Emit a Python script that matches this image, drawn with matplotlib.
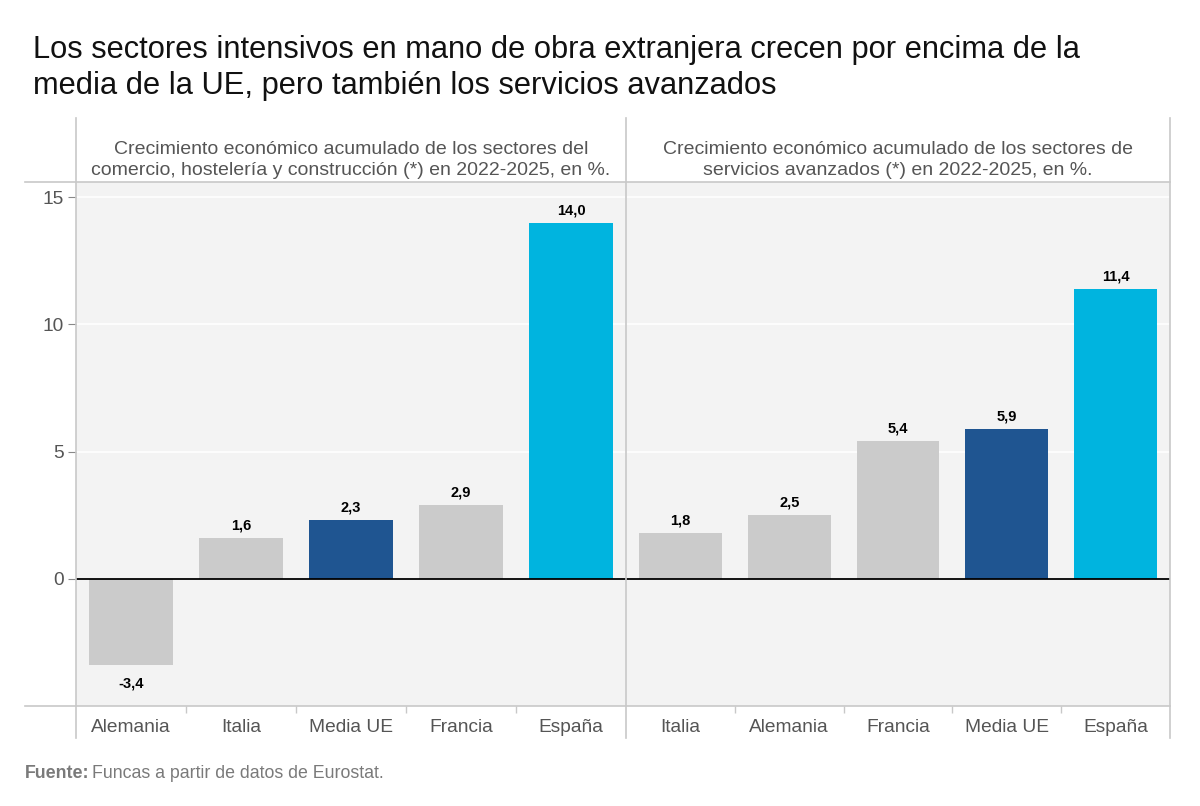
import numpy as np
import matplotlib.pyplot as plt
from matplotlib.lines import Line2D

plt.rcParams['font.family'] = ['Liberation Sans', 'DejaVu Sans']

# --- Data ---
left_countries = ['Alemania', 'Italia', 'Media UE', 'Francia', 'España']
left_values = [-3.4, 1.6, 2.3, 2.9, 14.0]
right_countries = ['Italia', 'Alemania', 'Francia', 'Media UE', 'España']
right_values = [1.8, 2.5, 5.4, 5.9, 11.4]

title = ('Los sectores intensivos en mano de obra extranjera crecen por encima de la\n'
         'media de la UE, pero también los servicios avanzados')
left_sub = ('Crecimiento económico acumulado de los sectores del\n'
            'comercio, hostelería y construcción (*) en 2022-2025, en %.')
right_sub = ('Crecimiento económico acumulado de los sectores de\n'
             'servicios avanzados (*) en 2022-2025, en %.')

GRAY = '#cbcbcb'
DARK = '#1f5591'
CYAN = '#00b4df'
LINE = '#c8c8c8'
TXT = '#555555'

def bar_color(name):
    if name == 'España':
        return CYAN
    if name == 'Media UE':
        return DARK
    return GRAY

W, H = 1200, 806
fig = plt.figure(figsize=(12, 8.06), dpi=100)

def px(x, y):
    return x / W, 1 - y / H

# --- Axes placed in pixel positions ---
x0, xm, x1 = 76, 626, 1170
ytop, ybot = 182, 706
axl = fig.add_axes([x0 / W, 1 - ybot / H, (xm - x0) / W, (ybot - ytop) / H])
axr = fig.add_axes([xm / W, 1 - ybot / H, (x1 - xm) / W, (ybot - ytop) / H], sharey=axl)

for ax, names, vals in [(axl, left_countries, left_values), (axr, right_countries, right_values)]:
    ax.set_facecolor('#f3f3f3')
    xs = np.arange(len(names))
    ax.bar(xs, vals, width=0.76, color=[bar_color(n) for n in names], zorder=2)
    ax.axhline(0, color='black', lw=1.3, zorder=3)
    ax.set_xlim(-0.5, len(names) - 0.5)
    ax.set_ylim(-5, 15.6)
    ax.set_yticks([0, 5, 10, 15])
    ax.grid(axis='y', color='white', lw=1.2, zorder=1)
    ax.set_xticks(xs)
    ax.set_xticklabels(names, fontsize=13.8, color=TXT)
    ax.set_xticks(np.arange(0.5, len(names) - 0.5, 1), minor=True)
    ax.tick_params(axis='x', which='major', length=0, pad=9)
    ax.tick_params(axis='x', which='minor', length=5, color=LINE, width=1)
    for s in ax.spines.values():
        s.set_visible(False)
    for x, v in zip(xs, vals):
        lab = f'{v:.1f}'.replace('.', ',')
        if v >= 0:
            ax.annotate(lab, (x, v), xytext=(0, 4), textcoords='offset points',
                        ha='center', va='bottom', fontsize=10.5, fontweight='bold', color='black')
        else:
            ax.annotate(lab, (x, v), xytext=(0, -8), textcoords='offset points',
                        ha='center', va='top', fontsize=10.5, fontweight='bold', color='black')

axl.tick_params(axis='y', length=6, color='#888888', labelsize=13.8, labelcolor=TXT, pad=3)
axr.tick_params(axis='y', left=False, labelleft=False)

# --- Frame lines ---
for x in (x0, xm, x1):
    fig.add_artist(Line2D([px(x, 0)[0]] * 2, [px(0, 118)[1], px(0, 738)[1]], color=LINE, lw=1.2))
for y in (ytop, ybot):
    fig.add_artist(Line2D([px(25, 0)[0], px(x1, 0)[0]], [px(0, y)[1]] * 2, color=LINE, lw=1.2))

# --- Texts ---
fig.text(*px(33, 35), title, fontsize=22.2, color='#111111', va='top', ha='left', linespacing=1.24)
fig.text(*px((x0 + xm) / 2, 160), left_sub, fontsize=14, color=TXT, ha='center', va='center', linespacing=1.38)
fig.text(*px((xm + x1) / 2, 160), right_sub, fontsize=14, color=TXT, ha='center', va='center', linespacing=1.38)
src_b = fig.text(*px(25, 773), 'Fuente:', fontsize=12.8, color='#7a7a7a', fontweight='bold', va='center', ha='left')
fig.canvas.draw()
bb = src_b.get_window_extent()
fig.text(bb.x1 / W + 3 / W, px(0, 773)[1], 'Funcas a partir de datos de Eurostat.',
         fontsize=12.8, color='#7a7a7a', va='center', ha='left')

fig.savefig('out.png', dpi=100, facecolor='white')
